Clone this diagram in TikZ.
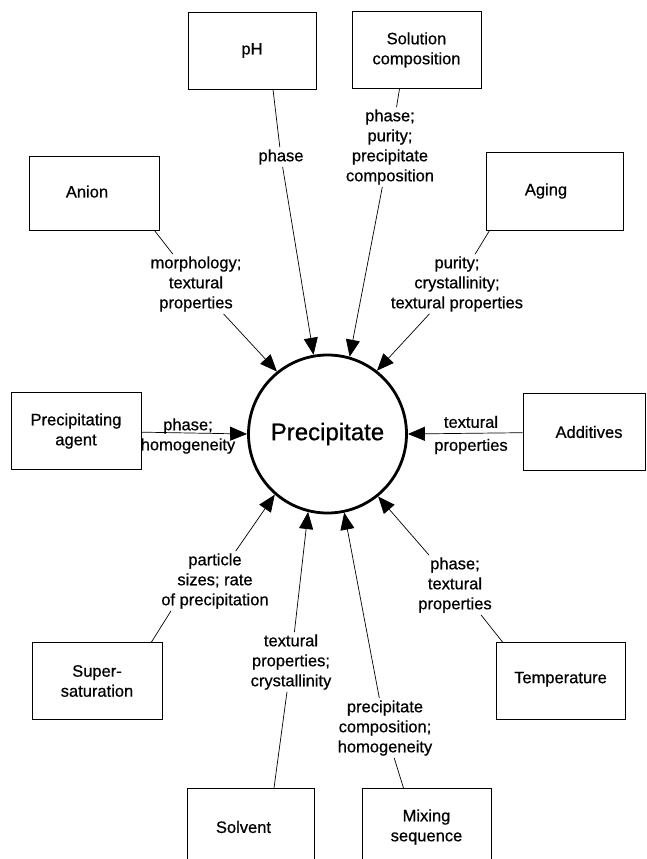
\documentclass[tikz,border=0pt]{standalone}
\usepackage{fontspec}
\setmainfont{Liberation Sans}[FakeBold=0.6]
\usetikzlibrary{arrows.meta}
\begin{document}
\begin{tikzpicture}[x=1pt,y=-1pt,
  box/.style={draw,line width=0.9pt,align=center,inner sep=0pt,minimum height=77pt,minimum width=129pt,font=\fontsize{16.5}{20}\selectfont},
  lab/.style={align=center,inner sep=2pt,font=\fontsize{16.5}{20}\selectfont},
  conn/.style={line width=0.7pt},
  arr/.style={line width=0.7pt,-{Triangle[length=17pt,width=14pt]}}]
\useasboundingbox (0,0) rectangle (647,859);
% boxes
\node[box,minimum width=128pt] (ph) at (252,50.5) {\raisebox{2pt}{pH}};
\node[box,minimum width=129pt] (sol) at (416.5,50) {Solution\\composition};
\node[box,minimum width=130pt,minimum height=74pt] (anion) at (94,193) {\raisebox{3pt}{Anion}\hspace{14pt}};
\node[box,minimum width=137pt,minimum height=78pt] (aging) at (554.5,191) {Aging\hspace{17pt}};
\node[box,minimum width=130pt] (pa) at (76,431) {Precipitating\hspace{4pt}\\agent\hspace{4pt}};
\node[box,minimum width=122pt] (add) at (584,432) {\hspace*{10pt}Additives};
\node[box,minimum width=130pt] (ss) at (97,681) {Super-\hspace{6pt}\\saturation\hspace{6pt}};
\node[box,minimum width=129pt] (temp) at (560.5,681) {\raisebox{7pt}{Temperature}};
\node[box,minimum width=127pt] (solv) at (251,827) {Solvent\hspace{15pt}};
\node[box,minimum width=129pt] (mix) at (426.5,827) {Mixing\hspace{8pt}\\sequence\hspace{8pt}};
% centre
\node[circle,draw,line width=2.8pt,minimum size=158pt,inner sep=0pt,font=\fontsize{24}{28}\selectfont] (prec) at (327.5,434) {\raisebox{3pt}{Precipitate}\hspace{10pt}};
% labels
\node[lab] (labph) at (281,157) {phase};
\node[lab] (labsol) at (390,147) {phase;\\purity;\\precipitate\\composition};
\node[lab] (labanion) at (196,284) {morphology;\\textural\\properties};
\node[lab] (labaging) at (457,284) {purity;\\crystallinity;\\textural properties};
\node[lab] (labpa) at (188,436) {phase;\\homogeneity};
\node[lab] (labadd) at (471,435) {textural\\[3pt]properties};
\node[lab] (labss) at (215,581) {particle\\sizes; rate\\of precipitation};
\node[lab] (labtemp) at (455,585) {phase;\\textural\\properties};
\node[lab] (labsolv) at (291,662) {textural\\properties;\\crystallinity};
\node[lab] (labmix) at (385,728) {precipitate\\composition;\\homogeneity};
% connectors
\draw[conn] ([xshift=21pt]ph.south) -- (labph);
\draw[arr] (labph) -- (prec.100);
\draw[conn] ([xshift=-17pt]sol.south) -- (labsol);
\draw[arr] (labsol) -- (prec.74);
\draw[conn] ([xshift=-5pt]anion.south east) -- (labanion);
\draw[arr] (labanion) -- (prec.129.5);
\draw[conn] ([xshift=4pt]aging.south west) -- (labaging);
\draw[arr] (labaging) -- (prec.52);
\draw[arr] (pa) -- (prec.west);
\draw[arr] (add) -- (prec.east);
\draw[conn] ([xshift=-11pt]ss.north east) -- ([xshift=-44pt]labss.south);
\draw[arr] (labss) -- (prec.229);
\draw[conn] ([xshift=7pt]temp.north west) -- ([xshift=26pt]labtemp.south);
\draw[arr] (labtemp) -- (prec.309);
\draw[conn] ([xshift=23pt]solv.north) -- (labsolv);
\draw[arr] (labsolv) -- (prec.256.5);
\draw[conn] ([xshift=-23pt]mix.north) -- (labmix);
\draw[arr] (labmix) -- (prec.282);
\end{tikzpicture}
\end{document}
